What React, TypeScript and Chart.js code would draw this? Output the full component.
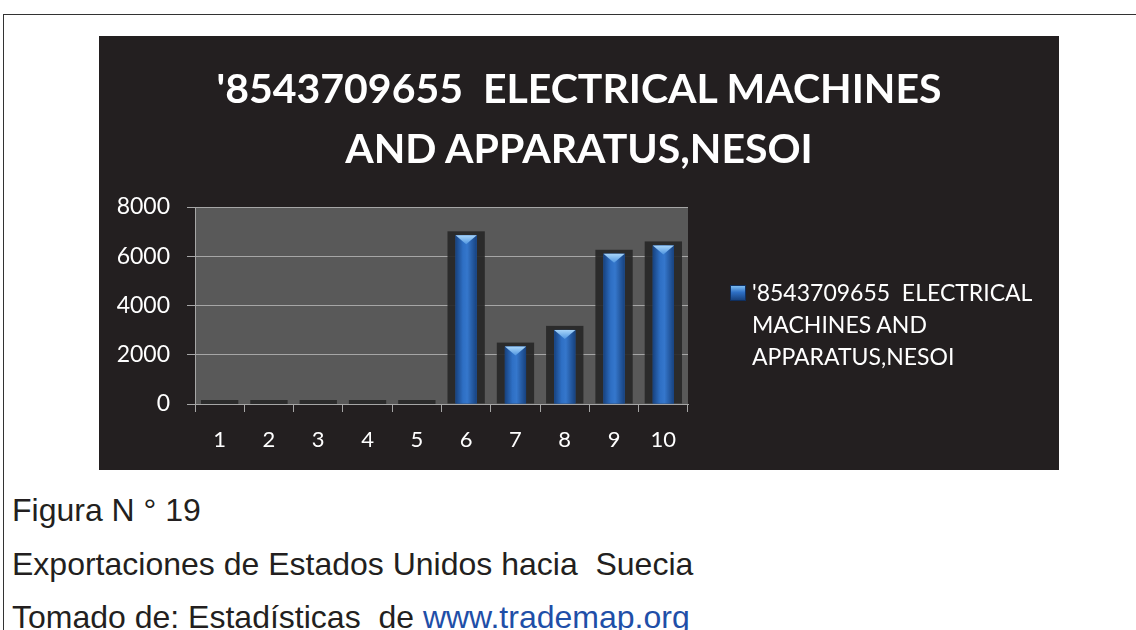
import React, { useEffect, useRef } from "react";
import { Chart, registerables } from "chart.js";

Chart.register(...registerables);

const categories = ["1", "2", "3", "4", "5", "6", "7", "8", "9", "10"];
const seriesName = "'8543709655  ELECTRICAL MACHINES AND APPARATUS,NESOI";
const values = [0, 0, 0, 0, 0, 6850, 2330, 3010, 6100, 6440];
const titleLines = ["'8543709655  ELECTRICAL MACHINES", "AND APPARATUS,NESOI"];
const legendLines = ["'8543709655  ELECTRICAL", "MACHINES AND", "APPARATUS,NESOI"];
const yMin = 0;
const yMax = 8000;
const yStep = 2000;

const FONT = "Lato, 'Open Sans', sans-serif";

const barDecor = {
  id: "barDecor",
  beforeDraw(chart: any) {
    const { ctx, chartArea } = chart;
    ctx.save();
    ctx.fillStyle = "#595959";
    ctx.fillRect(chartArea.left, chartArea.top, chartArea.right - chartArea.left, chartArea.bottom - chartArea.top);
    ctx.restore();
  },
  beforeDatasetsDraw(chart: any) {
    const { ctx } = chart;
    const meta = chart.getDatasetMeta(0);
    ctx.save();
    meta.data.forEach((el: any) => {
      const { x, y, base, width } = el.getProps(["x", "y", "base", "width"], true);
      const sw = width * 1.76;
      ctx.fillStyle = "rgba(38,38,38,0.9)";
      ctx.fillRect(x - sw / 2, y - 4, sw, base - y + 4);
    });
    ctx.restore();
  },
  afterDatasetsDraw(chart: any) {
    const { ctx } = chart;
    const meta = chart.getDatasetMeta(0);
    ctx.save();
    meta.data.forEach((el: any) => {
      const { x, y, base, width } = el.getProps(["x", "y", "base", "width"], true);
      if (base - y < 2) return;
      const l = x - width / 2;
      const g = ctx.createLinearGradient(l, 0, l + width, 0);
      g.addColorStop(0, "#17427f");
      g.addColorStop(0.35, "#2e6fc4");
      g.addColorStop(0.55, "#3577cc");
      g.addColorStop(1, "#17427f");
      ctx.fillStyle = g;
      ctx.fillRect(l, y, width, base - y);
      const cg = ctx.createLinearGradient(0, y, 0, y + 9);
      cg.addColorStop(0, "#a9d6fa");
      cg.addColorStop(1, "#4f95e0");
      ctx.fillStyle = cg;
      ctx.beginPath();
      ctx.moveTo(l, y);
      ctx.lineTo(l + width, y);
      ctx.lineTo(x, y + 9);
      ctx.closePath();
      ctx.fill();
    });
    ctx.restore();
  },
};

function ChartCanvas() {
  const ref = useRef<HTMLCanvasElement | null>(null);
  useEffect(() => {
    if (!ref.current) return;
    const chart = new Chart(ref.current, {
      type: "bar",
      data: {
        labels: categories,
        datasets: [
          {
            label: seriesName,
            data: values,
            backgroundColor: "#2a66b8",
            borderWidth: 0,
            barPercentage: 0.43,
            categoryPercentage: 1,
          },
        ],
      },
      options: {
        responsive: false,
        animation: false,
        devicePixelRatio: 1,
        layout: { padding: { left: 0, right: 371, top: 171, bottom: 0 } },
        plugins: {
          legend: { display: false },
          title: { display: false },
          tooltip: { enabled: false },
        },
        scales: {
          x: {
            offset: true,
            grid: {
              display: true,
              drawOnChartArea: false,
              drawTicks: true,
              tickLength: 8,
              color: "#a6a6a6",
              offset: true,
            },
            border: { display: true, color: "#a6a6a6" },
            ticks: {
              color: "#ffffff",
              font: { family: FONT, size: 22 },
              padding: 15,
              maxRotation: 0,
            },
            afterFit(scale: any) {
              scale.height = 66;
            },
          },
          y: {
            min: yMin,
            max: yMax,
            grid: {
              color: "#a6a6a6",
              tickLength: 8,
              drawTicks: true,
            },
            border: { display: true, color: "#a6a6a6" },
            ticks: {
              stepSize: yStep,
              color: "#ffffff",
              font: { family: FONT, size: 23 },
              padding: 17,
              callback: (v: any) => String(v),
            },
            afterFit(scale: any) {
              scale.width = 96;
            },
          },
        },
      },
      plugins: [barDecor],
    });
    return () => chart.destroy();
  }, []);
  return <canvas ref={ref} width={960} height={434} style={{ display: "block", width: 960, height: 434 }} />;
}

export default function App() {
  return (
    <div
      style={{
        position: "absolute",
        left: 0,
        top: 0,
        width: 1136,
        height: 630,
        overflow: "hidden",
        background: "#ffffff",
      }}
    >
      <div
        style={{
          position: "absolute",
          left: 3,
          top: 14,
          width: 1200,
          height: 700,
          borderTop: "1px solid #333",
          borderLeft: "1px solid #333",
        }}
      />
      <div
        style={{
          position: "absolute",
          left: 99,
          top: 36,
          width: 960,
          height: 434,
          background: "#231f20",
        }}
      >
        <ChartCanvas />
        <div
          style={{
            position: "absolute",
            left: 0,
            top: 22,
            width: 960,
            textAlign: "center",
            color: "#ffffff",
            fontFamily: FONT,
            fontWeight: 700,
            fontSize: 41,
            lineHeight: "60px",
            whiteSpace: "pre",
          }}
        >
          {titleLines.map((t, i) => (
            <div key={i}>{t}</div>
          ))}
        </div>
        <div
          style={{
            position: "absolute",
            left: 631,
            top: 249,
            width: 16,
            height: 16,
            background: "linear-gradient(180deg, #7cbcf2 0%, #2e6fc4 45%, #17427f 100%)",
            border: "1px solid #0f2f5f",
            boxSizing: "border-box",
          }}
        />
        <div
          style={{
            position: "absolute",
            left: 653,
            top: 240,
            color: "#ffffff",
            fontFamily: FONT,
            fontSize: 23,
            lineHeight: "32px",
            whiteSpace: "pre",
          }}
        >
          {legendLines.map((t, i) => (
            <div key={i}>{t}</div>
          ))}
        </div>
      </div>
      <div
        style={{
          position: "absolute",
          left: 12,
          top: 484,
          fontFamily: "'Liberation Sans', Arial, sans-serif",
          fontSize: 32,
          lineHeight: "53.5px",
          color: "#231f20",
          whiteSpace: "pre",
        }}
      >
        <div>Figura N ° 19</div>
        <div>Exportaciones de Estados Unidos hacia  Suecia</div>
        <div>
          Tomado de: Estadísticas  de <span style={{ color: "#1f4fa8" }}>www.trademap.org</span>
        </div>
      </div>
    </div>
  );
}
